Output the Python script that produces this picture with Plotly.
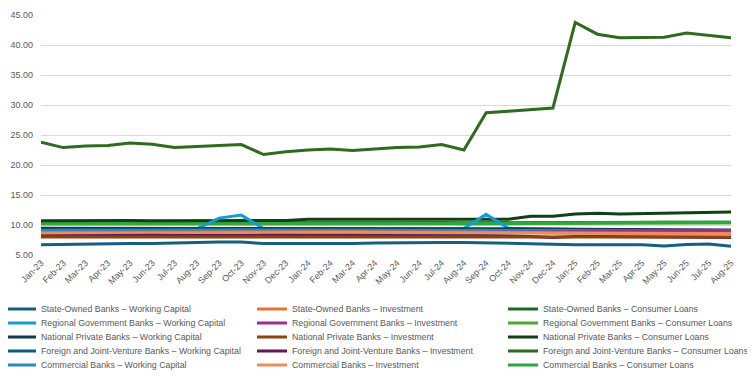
import plotly.graph_objects as go

months = ["Jan-23","Feb-23","Mar-23","Apr-23","May-23","Jun-23","Jul-23","Aug-23","Sep-23","Oct-23","Nov-23","Dec-23",
          "Jan-24","Feb-24","Mar-24","Apr-24","May-24","Jun-24","Jul-24","Aug-24","Sep-24","Oct-24","Nov-24","Dec-24",
          "Jan-25","Feb-25","Mar-25","Apr-25","May-25","Jun-25","Jul-25","Aug-25"]

sob_wc  = [6.70,6.78,6.85,6.90,6.92,6.92,6.95,7.10,7.15,7.15,6.90,6.88,6.88,6.90,6.92,6.98,7.05,7.08,7.08,7.10,7.05,6.98,6.90,6.80,6.72,6.75,6.70,6.70,6.50,6.75,6.85,6.45]
sob_inv = [8.75,8.75,8.78,8.80,8.80,8.80,8.78,8.78,8.80,8.80,8.82,8.85,8.88,8.88,8.88,8.85,8.85,8.82,8.80,8.80,8.78,8.75,8.72,8.70,8.68,8.65,8.65,8.62,8.62,8.60,8.60,8.60]
sob_cl  = [10.50,10.50,10.52,10.50,10.50,10.48,10.45,10.45,10.45,10.45,10.45,10.45,10.48,10.48,10.45,10.45,10.45,10.42,10.40,10.38,10.40,10.42,10.45,10.45,10.45,10.45,10.45,10.45,10.45,10.45,10.45,10.45]
rgb_wc  = [9.30,9.30,9.30,9.30,9.30,9.30,9.30,9.35,11.15,11.65,9.40,9.35,9.35,9.35,9.35,9.35,9.35,9.35,9.35,9.40,11.80,9.45,9.35,9.30,9.25,9.20,9.20,9.15,9.15,9.10,9.10,9.10]
rgb_inv = [8.35,8.35,8.38,8.40,8.40,8.40,8.40,8.42,8.45,8.45,8.48,8.50,8.52,8.55,8.58,8.60,8.62,8.65,8.68,8.70,8.72,8.75,8.80,8.85,8.88,8.90,8.92,8.95,8.98,9.00,9.02,9.05]
rgb_cl  = [10.15,10.15,10.12,10.12,10.10,10.10,10.10,10.10,10.10,10.10,10.12,10.12,10.15,10.15,10.15,10.15,10.15,10.12,10.12,10.10,10.15,10.20,10.25,10.25,10.28,10.30,10.30,10.30,10.32,10.32,10.35,10.35]
npb_wc  = [9.45,9.45,9.45,9.45,9.45,9.45,9.45,9.45,9.45,9.45,9.45,9.45,9.45,9.45,9.45,9.45,9.45,9.45,9.45,9.45,9.42,9.40,9.38,9.35,9.30,9.28,9.25,9.25,9.22,9.20,9.20,9.18]
npb_inv = [8.00,8.00,8.02,8.02,8.05,8.05,8.05,8.05,8.05,8.05,8.05,8.05,8.08,8.08,8.08,8.08,8.08,8.08,8.08,8.08,8.08,8.05,8.05,8.05,8.02,8.00,8.00,8.00,8.00,7.98,7.98,7.98]
npb_cl  = [10.70,10.72,10.78,10.75,10.75,10.70,10.70,10.70,10.70,10.70,10.80,10.75,10.95,10.95,10.90,10.88,10.88,10.92,10.92,10.92,10.92,10.95,11.45,11.45,11.85,11.95,11.85,11.90,12.00,12.05,12.08,12.18]
fjv_wc  = [9.20,9.20,9.22,9.22,9.22,9.22,9.22,9.22,9.22,9.22,9.22,9.22,9.22,9.22,9.22,9.22,9.20,9.20,9.20,9.20,9.20,9.18,9.15,9.12,9.10,9.08,9.05,9.05,9.02,9.00,9.00,9.00]
fjv_inv = [8.15,8.20,8.25,8.28,8.30,8.30,8.25,8.22,8.22,8.25,8.28,8.28,8.30,8.30,8.30,8.28,8.28,8.25,8.25,8.22,8.20,8.15,8.10,7.92,8.10,8.10,8.05,8.05,8.00,8.00,7.95,7.92]
fjv_cl  = [23.80,22.90,23.15,23.25,23.65,23.45,22.90,23.10,23.30,23.40,21.75,22.20,22.50,22.65,22.40,22.70,22.90,23.00,23.40,22.50,28.70,28.95,29.25,29.50,43.75,41.80,41.20,41.20,41.30,42.00,41.55,41.20]
cb_wc   = [9.10,9.12,9.12,9.15,9.15,9.15,9.15,9.15,9.15,9.15,9.15,9.15,9.18,9.18,9.18,9.18,9.18,9.18,9.15,9.15,9.15,9.12,9.10,9.08,9.05,9.05,9.02,9.00,9.00,8.98,8.98,8.95]
cb_inv  = [8.60,8.62,8.65,8.68,8.70,8.70,8.70,8.70,8.72,8.72,8.72,8.75,8.78,8.78,8.78,8.75,8.75,8.75,8.72,8.72,8.70,8.68,8.65,8.62,8.60,8.58,8.58,8.55,8.55,8.55,8.55,8.55]
cb_cl   = [10.35,10.35,10.38,10.38,10.36,10.35,10.32,10.32,10.32,10.32,10.32,10.32,10.38,10.40,10.38,10.36,10.35,10.32,10.30,10.22,10.25,10.32,10.38,10.40,10.42,10.42,10.42,10.42,10.45,10.45,10.45,10.45]

series_names = [
    "State-Owned Banks – Working Capital", "State-Owned Banks – Investment", "State-Owned Banks – Consumer Loans",
    "Regional Government Banks – Working Capital", "Regional Government Banks – Investment", "Regional Government Banks – Consumer Loans",
    "National Private Banks – Working Capital", "National Private Banks – Investment", "National Private Banks – Consumer Loans",
    "Foreign and Joint-Venture Banks – Working Capital", "Foreign and Joint-Venture Banks – Investment", "Foreign and Joint-Venture Banks – Consumer Loans",
    "Commercial Banks – Working Capital", "Commercial Banks – Investment", "Commercial Banks – Consumer Loans",
]
series_values = [sob_wc, sob_inv, sob_cl, rgb_wc, rgb_inv, rgb_cl, npb_wc, npb_inv, npb_cl,
                 fjv_wc, fjv_inv, fjv_cl, cb_wc, cb_inv, cb_cl]
colors = ["#156082", "#E97132", "#196B24", "#0F9ED5", "#A02B93", "#4EA72E",
          "#0D3A4E", "#8B4411", "#0F4016", "#0A5F80", "#601A58", "#2F6B1F",
          "#2A88BA", "#EE8D5B", "#2DA83C"]

draw_order = [0, 2, 5, 14, 8, 3, 6, 9, 12, 4, 1, 13, 10, 7, 11]

fig = go.Figure()
legend_keys = ["legend"] + [f"legend{i}" for i in range(2, 16)]
for idx in draw_order:
    fig.add_trace(go.Scatter(
        x=months, y=series_values[idx], mode="lines", name=series_names[idx],
        line=dict(color=colors[idx], width=3),
        legend=legend_keys[idx],
    ))

# page has an 8px body margin; figure coordinates below are page coords - 8
W, H = 747, 371
ml, mr, mt, mb = 33, 24, 7, 124
pw, ph = W - ml - mr, H - mt - mb
col_px = [-7, 244, 495]
row_px = [301, 315, 329, 343, 357]
ffam = "Liberation Sans, Arial, sans-serif"
lfont = dict(family=ffam, size=8.8, color="#595959")
legends = {}
for i, key in enumerate(legend_keys):
    r, c = divmod(i, 3)
    legends[key] = dict(
        x=(col_px[c] - ml) / pw, y=(H - mb - row_px[r]) / ph,
        xanchor="left", yanchor="middle", orientation="v",
        bgcolor="rgba(0,0,0,0)", font=lfont, itemwidth=30,
    )

fig.update_layout(
    width=W, height=H,
    margin=dict(l=ml, r=mr, t=mt, b=mb, autoexpand=False),
    paper_bgcolor="white", plot_bgcolor="white",
    showlegend=True,
    **legends,
    xaxis=dict(type="category", tickangle=-45, showgrid=False, showline=False, ticks="", automargin=False,
               tickfont=dict(family=ffam, size=9, color="#595959")),
    yaxis=dict(range=[5, 45], dtick=5, tickformat=".2f", showgrid=True, gridcolor="#D9D9D9", gridwidth=1,
               zeroline=False, showline=False, ticks="", ticklabelstandoff=7, automargin=False,
               tickfont=dict(family=ffam, size=9, color="#595959")),
)

fig.write_html("out.html")
